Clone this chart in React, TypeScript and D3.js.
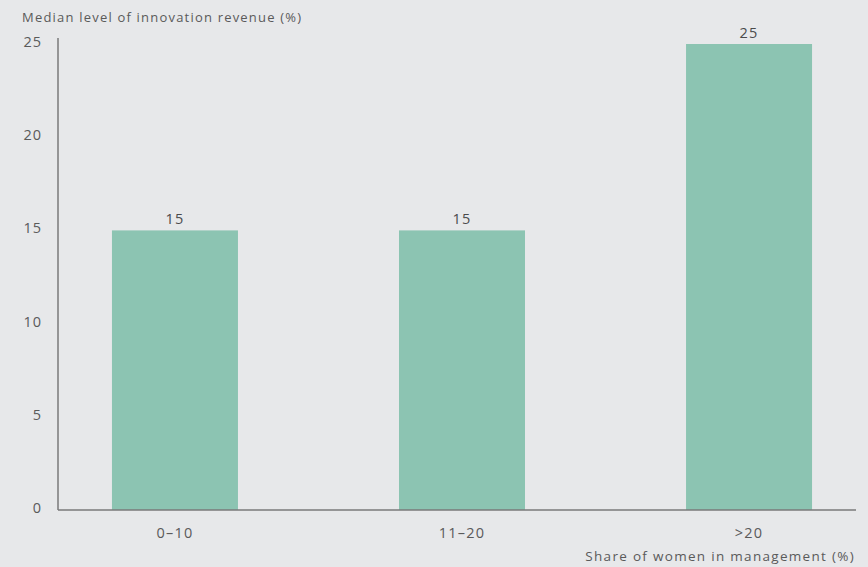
import { useEffect, useRef } from 'react';
import * as d3 from 'd3';

const categories = ['0–10', '11–20', '>20'];
const values = [15, 15, 25];
const yTicks = [0, 5, 10, 15, 20, 25];

const width = 868;
const height = 567;

export default function App() {
  const svgRef = useRef<SVGSVGElement>(null);

  useEffect(() => {
    if (!svgRef.current) return;
    const svg = d3.select(svgRef.current);
    svg.selectAll('*').remove();

    const x = d3.scaleBand<string>()
      .domain(categories)
      .range([58, 866])
      .paddingInner(0.561)
      .paddingOuter(0.188);

    const y = d3.scaleLinear().domain([0, 25]).range([510, 44]);

    const textColor = '#5a5a5a';
    const font = "'Open Sans', sans-serif";

    svg.append('rect')
      .attr('width', width)
      .attr('height', height)
      .attr('fill', '#e7e8ea');

    // Bars
    svg.append('g')
      .selectAll('rect')
      .data(values)
      .enter()
      .append('rect')
      .attr('x', (_, i) => x(categories[i])!)
      .attr('y', d => y(d))
      .attr('width', x.bandwidth())
      .attr('height', d => y(0) - y(d))
      .attr('fill', '#8cc4b2');

    // Value labels
    svg.append('g')
      .selectAll('text')
      .data(values)
      .enter()
      .append('text')
      .attr('x', (_, i) => x(categories[i])! + x.bandwidth() / 2)
      .attr('y', d => y(d) - 6)
      .attr('text-anchor', 'middle')
      .style('font-family', font)
      .style('font-size', '14.5px')
      .style('letter-spacing', '1.2px')
      .style('fill', '#4a4a4a')
      .text(d => d);

    // Axes lines
    svg.append('line')
      .attr('x1', 58).attr('x2', 58)
      .attr('y1', 38).attr('y2', 510)
      .style('stroke', '#7a7a7a')
      .style('stroke-width', 1.5);

    svg.append('line')
      .attr('x1', 58).attr('x2', 856)
      .attr('y1', 510).attr('y2', 510)
      .style('stroke', '#7a7a7a')
      .style('stroke-width', 1.5);

    // Y tick labels
    svg.append('g')
      .selectAll('text')
      .data(yTicks)
      .enter()
      .append('text')
      .attr('x', 42)
      .attr('y', d => y(d))
      .attr('dy', '0.2em')
      .attr('text-anchor', 'end')
      .style('font-family', font)
      .style('font-size', '14.5px')
      .style('letter-spacing', '1px')
      .style('fill', textColor)
      .text(d => d);

    // X category labels
    svg.append('g')
      .selectAll('text')
      .data(categories)
      .enter()
      .append('text')
      .attr('x', d => x(d)! + x.bandwidth() / 2)
      .attr('y', 538)
      .attr('text-anchor', 'middle')
      .style('font-family', font)
      .style('font-size', '14.5px')
      .style('letter-spacing', '1.2px')
      .style('fill', textColor)
      .text(d => d);

    // Axis titles
    svg.append('text')
      .attr('x', 22)
      .attr('y', 22)
      .style('font-family', font)
      .style('font-size', '13px')
      .style('letter-spacing', '1.2px')
      .style('fill', textColor)
      .text('Median level of innovation revenue (%)');

    svg.append('text')
      .attr('x', 855)
      .attr('y', 561)
      .attr('text-anchor', 'end')
      .style('font-family', font)
      .style('font-size', '13.5px')
      .style('letter-spacing', '1.3px')
      .style('fill', textColor)
      .text('Share of women in management (%)');
  }, []);

  return (
    <div style={{ position: 'fixed', left: 0, top: 0 }}>
      <svg ref={svgRef} width={width} height={height} style={{ display: 'block' }} />
    </div>
  );
}
